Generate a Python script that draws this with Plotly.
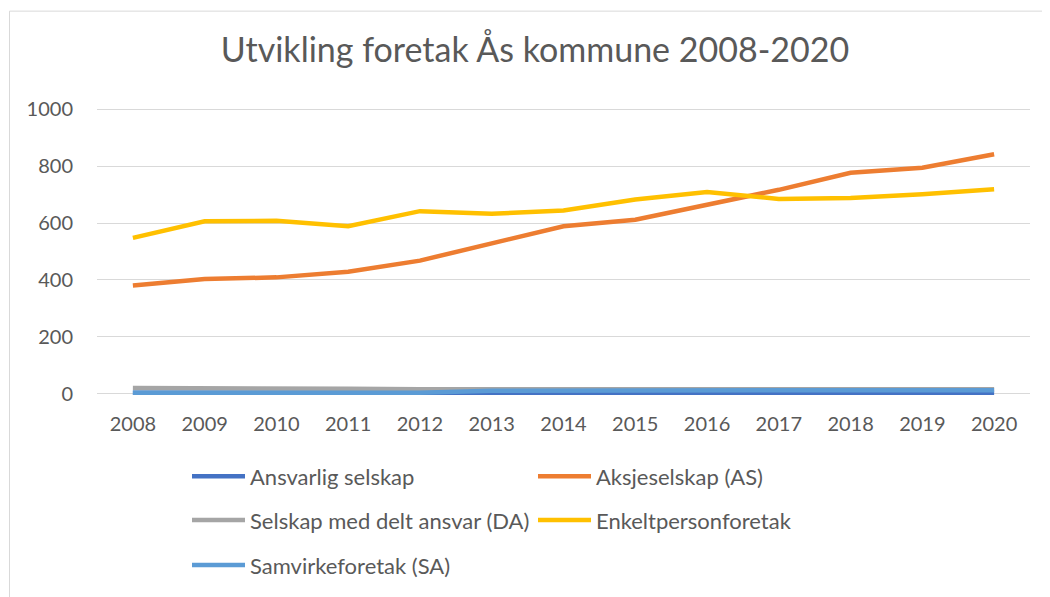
import plotly.graph_objects as go

years = [str(y) for y in range(2008, 2021)]
ansvarlig = [3, 3, 3, 3, 3, 4, 4, 4, 4, 4, 3, 3, 3]
aksjeselskap = [380, 403, 409, 429, 468, 527, 589, 612, 665, 717, 777, 795, 842]
delt_ansvar = [20, 20, 18, 17, 15, 15, 16, 18, 15, 17, 16, 15, 15]
enkeltperson = [548, 606, 608, 589, 642, 633, 644, 683, 709, 685, 688, 701, 719]
samvirke = [3, 3, 3, 3, 3, 10, 11, 12, 12, 12, 12, 12, 12]

names = ["Ansvarlig selskap", "Aksjeselskap (AS)", "Selskap med delt ansvar (DA)",
         "Enkeltpersonforetak", "Samvirkeforetak (SA)"]
series = [ansvarlig, aksjeselskap, delt_ansvar, enkeltperson, samvirke]
colors = ["#4472C4", "#ED7D31", "#A5A5A5", "#FFC000", "#5B9BD5"]
legends = ["legend", "legend", "legend2", "legend2", "legend3"]

FONT = "Lato, 'Open Sans', sans-serif"
TXT = "#595959"

OFF = 8  # page body margin
W, H = 1050, 597
L, R = 97 - OFF, 1030 - OFF
YMIN, YMAX = -40, 1040
PX_PER = 0.285
TOP = 109 - OFF - (YMAX - 1000) * PX_PER
BOT = 394 - OFF + (0 - YMIN) * PX_PER
PW = R - L
PH = BOT - TOP

def px2x(px):
    return (px - OFF - L) / PW

def px2y(py):
    return (BOT - (py - OFF)) / PH

fig = go.Figure()
for n, s, c, lg in zip(names, series, colors, legends):
    fig.add_trace(go.Scatter(x=years, y=s, name=n, mode="lines",
                             line=dict(color=c, width=4.5), legend=lg))

leg_common = dict(orientation="h", xref="paper", yref="paper", x=px2x(187),
                  xanchor="left", yanchor="middle", entrywidth=278,
                  entrywidthmode="pixels", font=dict(family=FONT, size=22, color=TXT),
                  bgcolor="rgba(0,0,0,0)", itemwidth=53, traceorder="normal")

fig.update_layout(
    width=W, height=H,
    margin=dict(l=L, r=W - R, t=TOP, b=H - BOT),
    paper_bgcolor="white", plot_bgcolor="white",
    title=dict(text="Utvikling foretak Ås kommune 2008-2020", x=(535 - OFF) / W, xanchor="center",
               xref="container", y=1 - (50 - OFF) / H, yref="container", yanchor="middle",
               font=dict(family=FONT, size=34, color=TXT)),
    xaxis=dict(type="category", range=[-0.5, 12.5], showgrid=False, showline=False,
               ticks="", ticklabelstandoff=5,
               tickfont=dict(family=FONT, size=20, color=TXT), fixedrange=True),
    yaxis=dict(range=[YMIN, YMAX], tickvals=[0, 200, 400, 600, 800, 1000],
               showgrid=True, gridcolor="#D9D9D9", gridwidth=1, zeroline=False,
               showline=False, ticks="", ticklabelstandoff=23,
               tickfont=dict(family=FONT, size=20, color=TXT)),
    legend=dict(**leg_common, y=px2y(477)),
    legend2=dict(**leg_common, y=px2y(521)),
    legend3=dict(**leg_common, y=px2y(566)),
    shapes=[dict(type="rect", xref="paper", yref="paper",
                 x0=px2x(9.5), x1=px2x(1048.5), y0=px2y(640), y1=px2y(10.5),
                 line=dict(color="#D9D9D9", width=1), fillcolor="rgba(0,0,0,0)", layer="below")],
)

fig.write_html("out.html")
